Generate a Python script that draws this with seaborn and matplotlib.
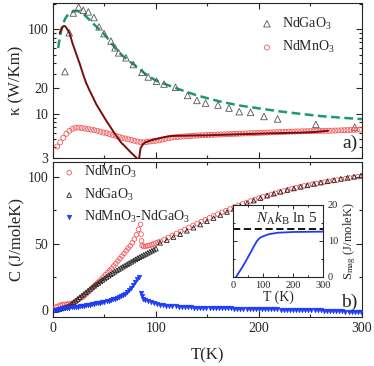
import numpy as np
import matplotlib
matplotlib.use("Agg")
import matplotlib.pyplot as plt
import seaborn as sns
from matplotlib.ticker import MultipleLocator, LogLocator, NullFormatter

# ---- panel a) thermal conductivity ----
# NdMnO3, open circles (T step 3 K)
k_mn = [4.1, 4.6, 5.2, 5.8, 6.3, 6.65, 6.85, 6.87, 6.8, 6.7, 6.6, 6.5, 6.4, 6.3,
        6.15, 6.0, 5.9, 5.75, 5.6, 5.5, 5.35, 5.2, 5.1, 5.0, 4.9, 4.8, 4.7, 4.62,
        4.6, 4.65, 4.7, 4.75, 4.8, 4.85, 4.95, 5.05, 5.15, 5.22, 5.28, 5.32, 5.36,
        5.4, 5.43, 5.46, 5.49, 5.52, 5.55, 5.58, 5.6, 5.62, 5.64, 5.66, 5.68, 5.7,
        5.72, 5.74, 5.76, 5.78, 5.8, 5.82, 5.84, 5.86, 5.88, 5.9, 5.92, 5.94, 5.96,
        5.98, 6.0, 6.02, 6.04, 6.06, 6.08, 6.1, 6.12, 6.14, 6.16, 6.18, 6.2, 6.21,
        6.22, 6.23, 6.24, 6.26, 6.27, 6.28, 6.29, 6.3, 6.31, 6.32, 6.34, 6.36, 6.38,
        6.4, 6.42, 6.44, 6.46, 6.48, 6.5]
T_k_mn = np.linspace(4, 298, len(k_mn))

# NdGaO3, open triangles
T_k_ga = [11.6, 15.8, 19.7, 24.9, 29.4, 34.3, 39.8, 44.7, 49.5, 56.3, 60.2, 63.8,
          70.9, 78, 86.4, 92.5, 100.6, 107.8, 119, 130.7, 139.8, 148.2, 160.2,
          170.9, 180.9, 191.9, 204.9, 218.1, 255.3, 293]
k_ga = [31.6, 91, 156, 184, 168, 161, 138, 107, 89, 72.6, 60.5, 52.7, 46, 38.3,
        31, 27.3, 24.3, 22.5, 20.6, 16.5, 14.4, 13.4, 12.7, 11.7, 10.6, 10.4, 9.3,
        8.7, 7.5, 6.95]

# fit to NdGaO3 (dashed)
T_fit = [5, 7, 9, 12, 15, 18, 21, 24, 27, 30, 35, 40, 45, 50, 55, 60, 65, 70, 80,
         90, 100, 120, 140, 160, 180, 200, 220, 240, 260, 280, 300]
k_fit = [60, 85, 110, 135, 152, 160, 165, 164, 160, 150, 131, 114, 100, 87, 73,
         61, 52, 46, 37, 29.5, 24.7, 20, 16.5, 14.2, 12.6, 11.6, 10.7, 10.0, 9.4,
         9.0, 8.65]

# NdMnO3 second curve (solid dark red)
T_line = [6.5, 8, 9.5, 10.7, 12, 14, 16.2, 19, 22.6, 26, 29.1, 32, 35.6, 39, 42,
          46, 51.8, 56, 61.5, 66, 71.2, 76, 80, 82.5, 83.5, 85, 87, 89, 94, 99,
          105, 110, 115, 130, 149, 165, 181, 200, 213.6, 225, 240, 255, 267]
k_line = [90, 100, 107, 110, 108, 100, 89, 68, 51, 39, 29.7, 23.5, 18.8, 15.5, 13,
          10.8, 8.26, 6.9, 5.47, 4.6, 3.97, 3.45, 3.1, 2.9, 2.9, 3.9, 4.3, 4.56,
          4.8, 5.0, 5.2, 5.35, 5.47, 5.52, 5.57, 5.65, 5.73, 5.82, 5.89, 5.93,
          5.98, 6.1, 6.3]

# ---- panel b) specific heat ----
T_c_mn = np.r_[np.arange(3, 86, 2), [85.5, 86, 86.5], np.arange(88, 103, 2),
               np.arange(104, 301, 4)]
c_mn = [2.5, 3, 3.8, 4.2, 4.4, 4.5, 4.7, 4.9, 5.4, 6.2, 7.2, 8.3, 9.2, 10, 11.4,
        12.8, 14.3, 15.8, 17.4, 18.9, 20.3, 21.8, 23.2, 24.8, 26.6, 28.2, 29.8,
        31.4, 33.2, 35, 36.9, 38.7, 40.6, 42.6, 44.5, 46.4, 48.2, 50.5, 53.2, 56.5,
        60.5, 64.3,
        57, 52, 48.5,
        47.8, 48, 48.3, 48.6, 49.1, 49.7, 50.3, 50.9,
        51.6, 53, 54.5, 56, 57.5, 59, 60.5, 62, 63.5, 65, 66.4, 67.8, 69.2, 70.6,
        72, 73.3, 74.6, 75.9, 77.2, 78.5, 79.6, 80.7, 81.8, 82.9, 84, 84.9, 85.8,
        86.7, 87.6, 88.5, 89.3, 90.1, 90.9, 91.7, 92.5, 93.1, 93.7, 94.3, 94.9,
        95.5, 96, 96.5, 97, 97.5, 98, 98.5, 99, 99.5, 100, 100.5]

T_c_ga = np.r_[np.arange(2, 101, 2), np.arange(104, 300, 6.5)]
c_ga = [0.1, 0.3, 0.8, 1.3, 1.8, 2.3, 2.8, 3.4, 4.6, 5.9, 7.2, 8.5, 9.8, 11.1,
        12.3, 13.5, 14.7, 15.9, 17.1, 18.3, 19.4, 20.5, 21.6, 22.7, 23.8, 24.9,
        25.9, 26.9, 27.9, 28.9, 29.9, 30.9, 31.8, 32.7, 33.6, 34.5, 35.4, 36.3,
        37.2, 38.1, 39, 39.8, 40.6, 41.4, 42.2, 43, 43.8, 44.6, 45.4, 46.2,
        50.5, 52.5, 54.8, 57, 59.5, 61.8, 64.2, 66.6, 69, 71.3, 73.6, 75.8, 78,
        80.1, 82.1, 84, 85.8, 87.3, 88.7, 90, 91.2, 92.4, 93.5, 94.6, 95.6, 96.6,
        97.5, 98.4, 99.2, 100, 100.7]

T_c_diff = np.r_[np.arange(2, 83, 2), [83.5, 85, 86, 87.5], np.arange(89, 300, 3)]
c_diff = [0.2, 0.5, 0.8, 1.1, 1.4, 1.6, 1.8, 2.0, 2.2, 2.4, 2.6, 2.8, 3.0, 3.3,
          3.5, 3.7, 4.0, 4.3, 4.6, 4.9, 5.2, 5.5, 5.8, 6.1, 6.5, 6.9, 7.3, 7.8,
          8.3, 8.8, 9.4, 10.0, 10.7, 11.5, 12.4, 13.5, 15.0, 16.8, 18.8, 21, 23.2,
          24.9, 13, 10.5, 8.5,
          7.6, 6.8, 6.0, 5.3, 4.8, 4.3, 3.9, 3.6, 3.3, 3.1, 2.9, 2.7, 2.55, 2.4,
          2.3, 2.2, 2.1, 2.0, 1.9, 1.85, 1.8, 1.75, 1.7, 1.65, 1.6, 1.55, 1.5,
          1.45, 1.4, 1.35, 1.3, 1.25, 1.2, 1.15, 1.1, 1.05, 1.0, 0.95, 0.9, 0.85,
          0.8, 0.75, 0.7, 0.65, 0.6, 0.55, 0.5, 0.45, 0.4, 0.35, 0.3, 0.25, 0.2,
          0.15, 0.1, 0.05, 0.0, -0.1, -0.2, -0.3, -0.4, -0.5, -0.6, -0.7, -0.8,
          -0.9, -1.0, -1.1, -1.2, -1.3, -1.4]

# inset: magnetic entropy
T_s = [10, 20, 30, 40, 50, 60, 70, 80, 90, 100, 120, 150, 200, 250, 300]
s_mag = [0, 1.3, 2.6, 4.0, 5.5, 7.0, 8.6, 10.0, 10.9, 11.3, 11.9, 12.3, 12.5,
         12.55, 12.6]
s_limit = 8.314 * np.log(5)

sns.set_theme(style="ticks")
plt.rcParams["font.family"] = ["Liberation Serif", "DejaVu Serif"]
plt.rcParams["mathtext.fontset"] = "custom"
plt.rcParams["mathtext.rm"] = "Liberation Serif"
plt.rcParams["mathtext.it"] = "Liberation Serif:italic"
plt.rcParams["axes.linewidth"] = 0.8

c_red = "#f25a5a"
c_gray = "#555555"
c_blue = "#1f3cf5"
c_green = "#1b9a6e"
c_dark = "#7a0c0c"

fig = plt.figure(figsize=(3.74, 3.66), dpi=100)
ax1 = fig.add_axes([0.1417, 0.5683, 0.826, 0.4235])
ax2 = fig.add_axes([0.1417, 0.1339, 0.826, 0.4235])

# panel a
sns.lineplot(x=T_fit, y=k_fit, ax=ax1, color=c_green, lw=1.8, zorder=2)
ax1.lines[-1].set_dashes([3.5, 1.8])
sns.lineplot(x=T_line, y=k_line, ax=ax1, color=c_dark, lw=1.4, zorder=4)
sns.scatterplot(x=T_k_ga, y=k_ga, ax=ax1, marker="^", s=22, facecolor="none",
                edgecolor=c_gray, linewidth=0.6, label="NdGaO$_3$", zorder=3)
sns.scatterplot(x=T_k_mn, y=k_mn, ax=ax1, marker="o", s=13, facecolor="none",
                edgecolor=c_red, linewidth=0.6, label="NdMnO$_3$", zorder=3)
ax1.set_yscale("log")
ax1.set_ylim(3, 205)
ax1.set_xlim(0, 300)
ax1.set_yticks([3, 10, 20, 100], ["3", "10", "20", "100"])
ax1.yaxis.set_minor_locator(LogLocator(subs=np.arange(2, 10)))
ax1.yaxis.set_minor_formatter(NullFormatter())
ax1.set_ylabel("κ (W/Km)", fontsize=12, labelpad=2)
ax1.tick_params(labelbottom=False)
ax1.legend(loc="upper left", bbox_to_anchor=(0.67, 0.92), frameon=False,
           fontsize=10, handlelength=1.0, handletextpad=0.6, borderpad=0,
           borderaxespad=0, labelspacing=0.55)
ax1.text(0.985, 0.04, "a)", transform=ax1.transAxes, ha="right", va="bottom",
         fontsize=14)

# panel b
sns.scatterplot(x=T_c_mn, y=c_mn, ax=ax2, marker="o", s=11, facecolor="none",
                edgecolor=c_red, linewidth=0.6, label="NdMnO$_3$", zorder=3)
sns.scatterplot(x=T_c_ga, y=c_ga, ax=ax2, marker="^", s=11, facecolor="none",
                edgecolor="#222222", linewidth=0.6, label="NdGaO$_3$", zorder=3)
sns.scatterplot(x=T_c_diff, y=c_diff, ax=ax2, marker="v", s=11, color=c_blue,
                edgecolor=c_blue, linewidth=0.4, label="NdMnO$_3$-NdGaO$_3$",
                zorder=3)
ax2.set_xlim(0, 300)
ax2.set_ylim(-5, 111)
ax2.yaxis.set_major_locator(MultipleLocator(50))
ax2.yaxis.set_minor_locator(MultipleLocator(25))
ax2.set_xlabel("T(K)", fontsize=12, labelpad=9)
ax2.set_ylabel("C (J/moleK)", fontsize=12, labelpad=2)
ax2.legend(loc="upper left", bbox_to_anchor=(0.03, 0.985), frameon=False,
           fontsize=10, handlelength=1.0, handletextpad=0.6, borderpad=0,
           borderaxespad=0, labelspacing=0.45)
ax2.text(0.985, 0.04, "b)", transform=ax2.transAxes, ha="right", va="bottom",
         fontsize=14)

for ax in (ax1, ax2):
    ax.xaxis.set_major_locator(MultipleLocator(100))
    ax.xaxis.set_minor_locator(MultipleLocator(50))
    ax.tick_params(which="both", direction="in", top=True, right=True,
                   labelsize=10, width=0.8)
    ax.tick_params(which="major", length=4)
    ax.tick_params(which="minor", length=2)

# inset
axi = fig.add_axes([0.623, 0.2432, 0.2406, 0.1967])
sns.lineplot(x=T_s, y=s_mag, ax=axi, color=c_blue, lw=1.3)
axi.axhline(s_limit, color="black", lw=1.3, dashes=(4, 2))
axi.set_xlim(0, 300)
axi.set_ylim(0, 20)
axi.xaxis.set_major_locator(MultipleLocator(100))
axi.xaxis.set_minor_locator(MultipleLocator(50))
axi.yaxis.set_major_locator(MultipleLocator(10))
axi.yaxis.set_minor_locator(MultipleLocator(5))
axi.tick_params(which="both", direction="in", top=True, right=True, left=True,
                labelleft=False, labelright=True, labelsize=7.5, width=0.7)
axi.tick_params(axis="x", pad=3)
axi.tick_params(axis="y", pad=3.5)
axi.tick_params(which="major", length=3)
axi.tick_params(which="minor", length=1.5)
axi.yaxis.set_label_position("right")
axi.set_ylabel("S$_{\\rm mag}$ (J/moleK)", fontsize=9, labelpad=2)
axi.set_xlabel("T (K)", fontsize=10, labelpad=0)
axi.text(0.6, 0.8, "$N_{\\rm A}k_{\\rm B}$ ln 5", transform=axi.transAxes,
         ha="center", va="center", fontsize=11)

fig.savefig("out.png", dpi=100)
